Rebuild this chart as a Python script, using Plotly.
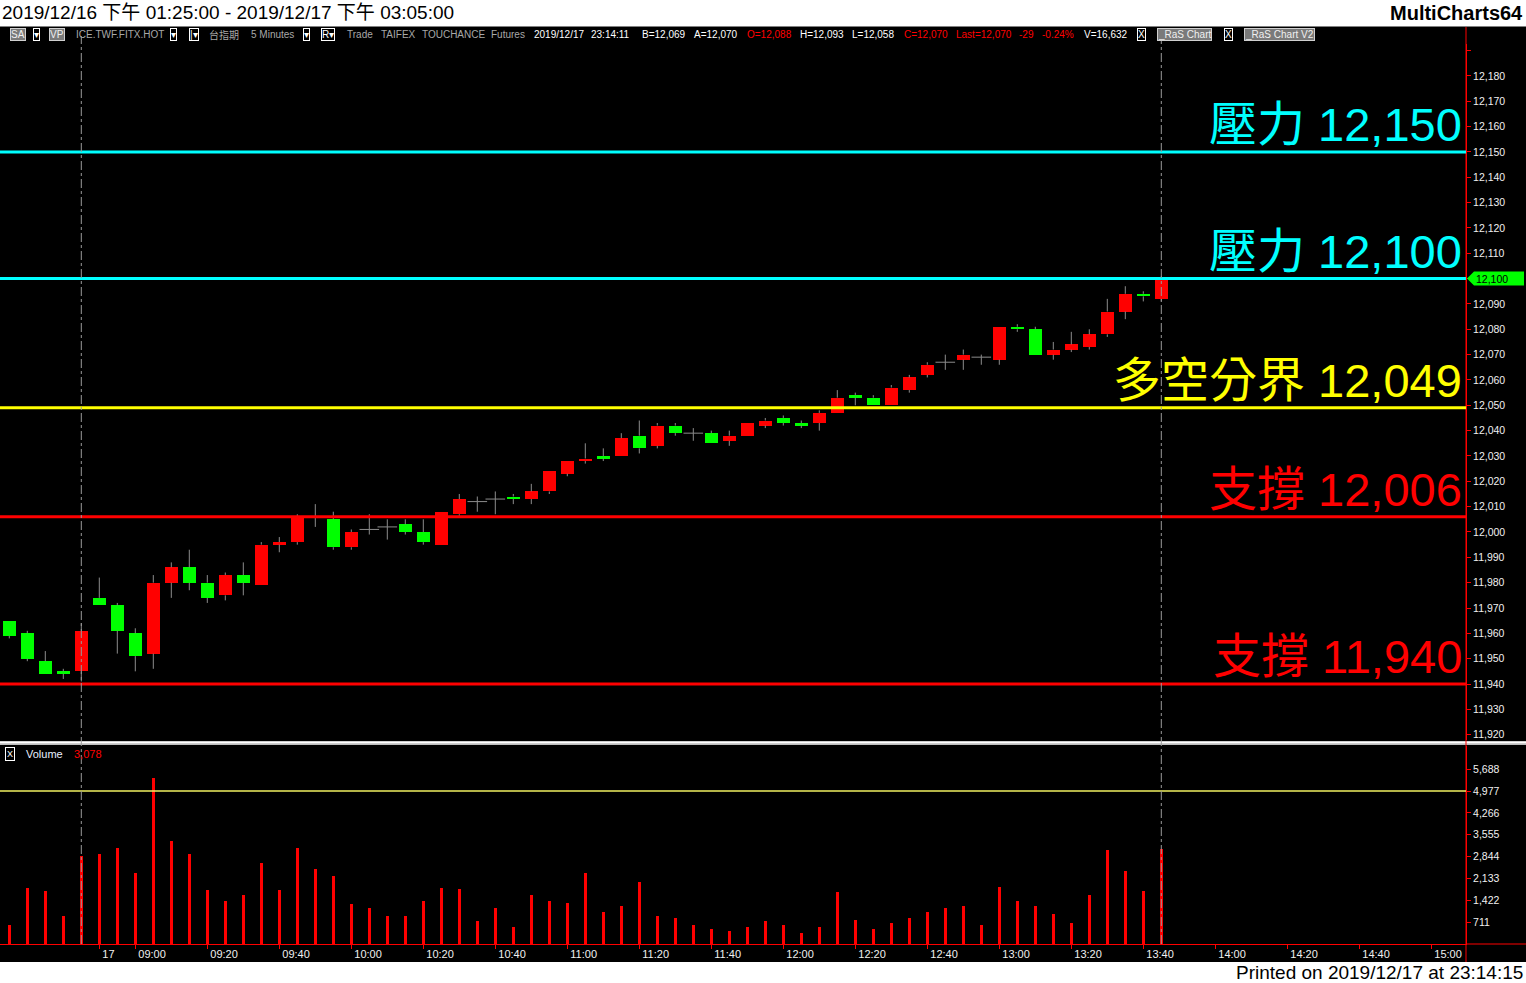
import plotly.graph_objects as go

# ---------------- data ----------------
bar_index = list(range(65))
opens = [11965, 11960, 11949, 11945, 11945, 11974, 11971, 11960, 11952, 11980,
         11986, 11980, 11975, 11983, 11979, 11995, 11996, 12006, 12005, 11994,
         12001, 12002, 12003, 12000, 11995, 12007, 12012, 12013, 12014, 12013,
         12016, 12023, 12028, 12030, 12030, 12038, 12034, 12042, 12039, 12039,
         12036, 12038, 12042, 12045, 12043, 12043, 12047, 12054, 12053, 12050,
         12056, 12062, 12067, 12068, 12069, 12068, 12081, 12080, 12070, 12072,
         12073, 12078, 12087, 12094, 12092]
highs = [11965, 11961, 11953, 11946, 11964, 11982, 11972, 11962, 11983, 11988,
         11993, 11983, 11984, 11988, 11996, 11998, 12007, 12011, 12008, 12001,
         12007, 12005, 12005, 12005, 12008, 12015, 12014, 12016, 12015, 12019,
         12024, 12028, 12035, 12033, 12039, 12044, 12043, 12043, 12041, 12040,
         12040, 12043, 12045, 12046, 12044, 12048, 12056, 12055, 12054, 12058,
         12062, 12067, 12070, 12072, 12070, 12081, 12082, 12081, 12075, 12079,
         12080, 12092, 12097, 12095, 12101]
lows = [11958, 11949, 11944, 11942, 11941, 11971, 11952, 11945, 11946, 11974,
        11977, 11972, 11973, 11975, 11979, 11992, 11995, 12002, 11993, 11993,
        11999, 11997, 11999, 11995, 11995, 12006, 12008, 12007, 12011, 12011,
        12015, 12022, 12027, 12028, 12030, 12031, 12033, 12038, 12036, 12035,
        12034, 12038, 12041, 12042, 12041, 12040, 12047, 12050, 12050, 12050,
        12055, 12061, 12064, 12064, 12066, 12066, 12079, 12070, 12068, 12071,
        12072, 12077, 12084, 12091, 12091]
closes = [11959, 11950, 11944, 11944, 11961, 11971, 11961, 11951, 11980, 11986,
          11980, 11974, 11983, 11980, 11995, 11996, 12006, 12006, 11994, 12000,
          12001, 12002, 12000, 11996, 12008, 12013, 12012, 12013, 12013, 12016,
          12024, 12028, 12029, 12029, 12037, 12033, 12042, 12039, 12039, 12035,
          12038, 12043, 12044, 12043, 12042, 12047, 12053, 12053, 12050, 12057,
          12061, 12066, 12067, 12070, 12069, 12081, 12080, 12070, 12072, 12074,
          12078, 12087, 12094, 12093, 12100]
volumes = [602, 1838, 1740, 895, 2879, 2944, 3107, 2326, 5416, 3367,
           2944, 1773, 1415, 1610, 2619, 1773, 3139, 2424, 2196, 1317,
           1155, 927, 895, 1383, 1838, 1805, 764, 1155, 537, 1610,
           1415, 1350, 2326, 1025, 1252, 2033, 895, 862, 634, 472,
           439, 537, 764, 602, 342, 569, 1708, 797, 472, 699,
           862, 1057, 1155, 1252, 602, 1870, 1383, 1252, 960, 699,
           1578, 3074, 2391, 1740, 3078]

time_tick_index = [5, 7, 11, 15, 19, 23, 27, 31, 35, 39, 43, 47, 51, 55, 59, 63, 67, 71, 75, 79]
time_tick_text = ["17", "09:00", "09:20", "09:40", "10:00", "10:20", "10:40", "11:00",
                  "11:20", "11:40", "12:00", "12:20", "12:40", "13:00", "13:20", "13:40",
                  "14:00", "14:20", "14:40", "15:00"]
price_ticks = list(range(11920, 12191, 10))
volume_ticks = [711, 1422, 2133, 2844, 3555, 4266, 4977, 5688]

level_values = [12150, 12100, 12049, 12006, 11940]
level_labels = ["壓力", "壓力", "多空分界", "支撐", "支撐"]
level_colors = ["#00FFFF", "#00FFFF", "#FFFF00", "#FF0000", "#FF0000"]
volume_ref_value = 4977
day_break_index = 4
cursor_index = 64

title_text = "2019/12/16 下午 01:25:00 - 2019/12/17 下午 03:05:00"
brand_text = "MultiCharts64"
printed_text = "Printed on 2019/12/17 at 23:14:15"

# toolbar items: (left px, text, style)
toolbar_items = [
    (10, "SA", "box"), (33, "▾", "drop"), (49, "VP", "box"),
    (75, "ICE.TWF.FITX.HOT", "gray"), (170, "▾", "drop"), (189, "|▾", "drop"),
    (208, "台指期", "gray"), (250, "5 Minutes", "gray"), (303, "▾", "drop"),
    (321, "R▾", "drop"), (346, "Trade", "gray"), (380, "TAIFEX", "gray"),
    (421, "TOUCHANCE", "gray"), (490, "Futures", "gray"),
    (533, "2019/12/17", "white"), (590, "23:14:11", "white"),
    (641, "B=12,069", "white"), (693, "A=12,070", "white"),
    (746, "O=12,088", "red"), (799, "H=12,093", "white"), (851, "L=12,058", "white"),
    (903, "C=12,070", "red"), (955, "Last=12,070", "red"), (1018, "-29", "red"),
    (1041, "-0.24%", "red"), (1083, "V=16,632", "white"),
    (1137, "X", "drop"), (1157, "_RaS Chart", "box"), (1224, "X", "drop"),
    (1244, "_RaS Chart V2", "box"),
]

# ---------------- geometry helpers (layout only) ----------------
W, H = 1526, 983
PL, PR, PT, PB = 0, 1466, 44, 944


def px(xp):
    return (xp - PL) / (PR - PL)


def py(yp):
    return (PB - yp) / (PB - PT)


RED = "#FF0000"
GREEN = "#00FF00"
WICK = "#8C8C8C"
FONT = "Liberation Sans, Arial, Noto Sans CJK TC, sans-serif"

fig = go.Figure()

# wicks (segments outside the body)
wx, wy = [], []
for i, o, h, l, c in zip(bar_index, opens, highs, lows, closes):
    top, bot = max(o, c), min(o, c)
    if h > top:
        wx += [i, i, None]
        wy += [top, h, None]
    if l < bot:
        wx += [i, i, None]
        wy += [l, bot, None]
fig.add_trace(go.Scatter(x=wx, y=wy, mode="lines", line=dict(color=WICK, width=1),
                         hoverinfo="skip", xaxis="x", yaxis="y"))

# bodies
bx, bbase, bh, bcol = [], [], [], []
dx, dy = [], []
for i, o, c in zip(bar_index, opens, closes):
    if o != c:
        bx.append(i)
        bbase.append(min(o, c))
        bh.append(abs(c - o))
        bcol.append(RED if c > o else GREEN)
    else:
        dx.append(i)
        dy.append(o)
fig.add_trace(go.Bar(x=bx, y=bh, base=bbase, width=0.72,
                     marker=dict(color=bcol, line=dict(width=0)),
                     hoverinfo="skip", xaxis="x", yaxis="y"))
fig.add_trace(go.Scatter(x=dx, y=dy, mode="markers",
                         marker=dict(symbol="line-ew", size=14, line=dict(color=WICK, width=1)),
                         hoverinfo="skip", xaxis="x", yaxis="y"))

# volume
fig.add_trace(go.Bar(x=bar_index, y=volumes, width=0.18,
                     marker=dict(color=RED, line=dict(width=0)),
                     hoverinfo="skip", xaxis="x", yaxis="y2"))

shapes = []
# header / footer white strips
shapes.append(dict(type="rect", xref="paper", yref="paper", x0=px(0), x1=px(W), y0=py(26.5), y1=py(0),
                   fillcolor="#FFFFFF", line=dict(width=0), layer="below"))
shapes.append(dict(type="rect", xref="paper", yref="paper", x0=px(0), x1=px(W), y0=py(H), y1=py(962),
                   fillcolor="#FFFFFF", line=dict(width=0), layer="below"))
# panel separator
shapes.append(dict(type="rect", xref="paper", yref="paper", x0=px(0), x1=px(W), y0=py(745), y1=py(741),
                   fillcolor="#BEBEBE", line=dict(width=0)))
shapes.append(dict(type="line", xref="paper", yref="paper", x0=px(0), x1=px(W), y0=py(742.5), y1=py(742.5),
                   line=dict(color="#FFFFFF", width=1.5)))
# right axis line extended over toolbar/x-label band
shapes.append(dict(type="line", xref="paper", yref="paper", x0=1, x1=1, y0=py(962), y1=py(27),
                   line=dict(color=RED, width=1)))
shapes.append(dict(type="line", xref="paper", yref="paper", x0=1, x1=px(W), y0=0, y1=0,
                   line=dict(color=RED, width=1)))
# support / resistance lines
for v, col in zip(level_values, level_colors):
    shapes.append(dict(type="line", xref="paper", yref="y", x0=0, x1=1, y0=v, y1=v,
                       line=dict(color=col, width=3)))
# volume reference line
shapes.append(dict(type="line", xref="paper", yref="y2", x0=0, x1=1, y0=volume_ref_value, y1=volume_ref_value,
                   line=dict(color="#F0F060", width=1.4)))
# vertical dashed lines
for idx in (day_break_index, cursor_index):
    shapes.append(dict(type="line", xref="x", yref="paper", x0=idx, x1=idx, y0=0, y1=py(36),
                       line=dict(color="#9A9A9A", width=1, dash="dashdot")))
# last price marker
shapes.append(dict(type="path", xref="paper", yref="y", xsizemode="pixel", ysizemode="pixel",
                   xanchor=1, yanchor=closes[-1],
                   path="M1,0 L8,7 L58,7 L58,-7 L8,-7 Z",
                   fillcolor=GREEN, line=dict(width=0)))

annotations = []
# big level labels
for v, lab, col in zip(level_values, level_labels, level_colors):
    annotations.append(dict(xref="paper", yref="y", x=1, y=v, xanchor="right", yanchor="bottom",
                            xshift=-2, yshift=-1, showarrow=False,
                            text=f"<span style='font-size:48px'>{lab}</span> {v:,}",
                            font=dict(family=FONT, size=47, color=col)))
# last price label
annotations.append(dict(xref="paper", yref="y", x=1, y=closes[-1], xanchor="left", yanchor="middle",
                        xshift=8, showarrow=False, text=f"{closes[-1]:,}",
                        font=dict(family=FONT, size=10.5, color="#000000")))
# header
annotations.append(dict(xref="paper", yref="paper", x=px(0), y=py(13), xanchor="left", yanchor="middle",
                        showarrow=False, text=title_text, font=dict(family=FONT, size=19, color="#000000")))
annotations.append(dict(xref="paper", yref="paper", x=px(1525), y=py(13), xanchor="right", yanchor="middle",
                        showarrow=False, text=f"<b>{brand_text}</b>",
                        font=dict(family=FONT, size=20, color="#000000")))
annotations.append(dict(xref="paper", yref="paper", x=px(1525), y=py(972), xanchor="right", yanchor="middle",
                        showarrow=False, text=printed_text, font=dict(family=FONT, size=19, color="#000000")))
# toolbar
style_map = {
    "box": dict(font_color="#F0F0F0", bgcolor="#7A7A7A", bordercolor="#D0D0D0", borderwidth=1),
    "drop": dict(font_color="#FFFFFF", bgcolor="#000000", bordercolor="#FFFFFF", borderwidth=1),
    "gray": dict(font_color="#A8A8A8", bgcolor=None, bordercolor=None, borderwidth=0),
    "white": dict(font_color="#FFFFFF", bgcolor=None, bordercolor=None, borderwidth=0),
    "red": dict(font_color="#FF0000", bgcolor=None, bordercolor=None, borderwidth=0),
}
for xl, txt, st in toolbar_items:
    s = style_map[st]
    a = dict(xref="paper", yref="paper", x=px(xl), y=py(35), xanchor="left", yanchor="middle",
             showarrow=False, text=txt, font=dict(family=FONT, size=10, color=s["font_color"]),
             borderpad=0)
    if s["bgcolor"]:
        a["bgcolor"] = s["bgcolor"]
    if s["bordercolor"]:
        a["bordercolor"] = s["bordercolor"]
        a["borderwidth"] = s["borderwidth"]
    annotations.append(a)
# volume panel header
annotations.append(dict(xref="paper", yref="paper", x=px(5), y=py(754), xanchor="left", yanchor="middle",
                        showarrow=False, text="X", font=dict(family=FONT, size=9, color="#FFFFFF"),
                        bordercolor="#FFFFFF", borderwidth=1, borderpad=1))
annotations.append(dict(xref="paper", yref="paper", x=px(24), y=py(754), xanchor="left", yanchor="middle",
                        showarrow=False, text="Volume", font=dict(family=FONT, size=11, color="#E8F0FF")))
annotations.append(dict(xref="paper", yref="paper", x=px(72), y=py(754), xanchor="left", yanchor="middle",
                        showarrow=False, text=f"{volumes[-1]:,}", font=dict(family=FONT, size=11, color=RED)))

axis_common = dict(showgrid=False, zeroline=False, fixedrange=True, showline=True,
                   linecolor=RED, linewidth=1, ticks="outside", ticklen=4, tickcolor=RED, tickwidth=1)

fig.update_layout(
    width=W, height=H,
    margin=dict(l=PL, r=W - PR, t=PT, b=H - PB, pad=0),
    paper_bgcolor="#000000", plot_bgcolor="#000000",
    showlegend=False, barmode="overlay", bargap=0,
    font=dict(family=FONT, color="#FFFFFF", size=11),
    xaxis=dict(domain=[0, 1], range=[-9.3 / 18, (PR - PL - 9.3) / 18], anchor="y2",
               tickmode="array", tickvals=time_tick_index, ticktext=time_tick_text,
               ticklabelposition="outside right", ticklabelshift=2,
               tickfont=dict(family=FONT, size=11, color="#F0F0F0"), **axis_common),
    yaxis=dict(domain=[py(740), 1], range=[11917.9, 12192.6], side="right", anchor="x",
               tickmode="array", tickvals=price_ticks,
               ticktext=[f"{v:,}" if v < 12190 else "" for v in price_ticks],
               tickfont=dict(family=FONT, size=10.5, color="#F0F0F0"), **axis_common),
    yaxis2=dict(domain=[0, py(746)], range=[0, 6441], side="right", anchor="x",
                tickmode="array", tickvals=volume_ticks, ticktext=[f"{v:,}" for v in volume_ticks],
                tickfont=dict(family=FONT, size=10.5, color="#F0F0F0"), **axis_common),
    shapes=shapes,
    annotations=annotations,
)

fig.write_html("out.html", config={"displayModeBar": False},
               post_script="document.body.style.margin='0';")
